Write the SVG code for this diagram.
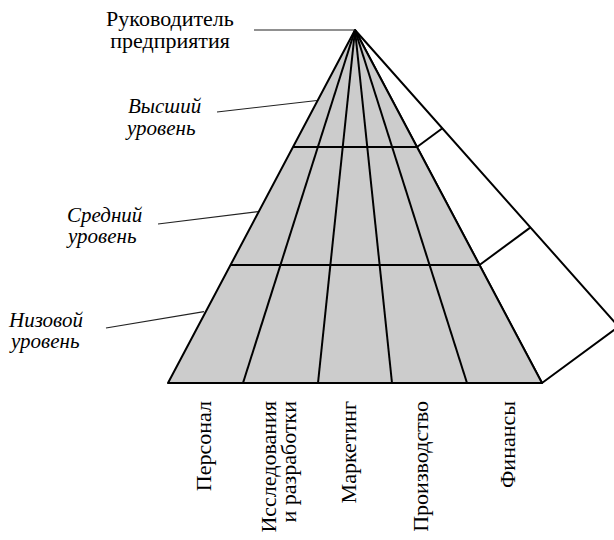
<svg xmlns="http://www.w3.org/2000/svg" width="614" height="540" viewBox="0 0 614 540">
<style>
.edge{fill:none;stroke:#000;stroke-width:2;stroke-linejoin:round}
.gray{fill:#cccccc}
.white{fill:#ffffff}
.lead{fill:none;stroke:#222;stroke-width:1.2}
.up{font-family:"Liberation Serif","DejaVu Serif",serif;font-size:22px;fill:#000}
.it{font-family:"Liberation Serif","DejaVu Serif",serif;font-size:21px;font-style:italic;fill:#000}
</style>
<rect width="614" height="540" fill="#fff"/>
<g id="right-face">
<polygon class="white" points="355,30 542,383 618.6,326.6"/>
<polygon class="edge" points="355,30 542,383 618.6,326.6"/>
<line class="edge" x1="417" y1="147" x2="442.4" y2="128.3"/>
<line class="edge" x1="479.5" y1="265" x2="530.5" y2="227.4"/>
</g>
<g id="front-face">
<polygon class="gray" points="355,30 168,383 542,383"/>
<polygon class="edge" points="355,30 168,383 542,383"/>
<line class="edge" x1="293" y1="147" x2="417" y2="147"/>
<line class="edge" x1="230.5" y1="265" x2="479.5" y2="265"/>
<line class="edge" x1="355" y1="30" x2="243" y2="383"/>
<line class="edge" x1="355" y1="30" x2="318" y2="383"/>
<line class="edge" x1="355" y1="30" x2="392" y2="383"/>
<line class="edge" x1="355" y1="30" x2="467" y2="383"/>
</g>
<g id="connectors">
<line class="lead" x1="254" y1="30" x2="355" y2="30"/>
<line class="lead" x1="217" y1="112" x2="317" y2="100.5"/>
<line class="lead" x1="158" y1="224" x2="258" y2="211.7"/>
<line class="lead" x1="106" y1="328" x2="204" y2="311.7"/>
</g>
<g id="label-head">
<text class="up" x="170" y="26" text-anchor="middle" font-family="Liberation Serif">Руководитель</text>
<text class="up" x="170" y="48" text-anchor="middle" font-family="Liberation Serif">предприятия</text>
</g>
<g id="label-top">
<text class="it" x="128" y="113">Высший</text>
<text class="it" x="127" y="135">уровень</text>
</g>
<g id="label-middle">
<text class="it" x="67" y="222">Средний</text>
<text class="it" x="68" y="243">уровень</text>
</g>
<g id="label-low">
<text class="it" x="9" y="327">Низовой</text>
<text class="it" x="11" y="348">уровень</text>
</g>
<g id="col-personnel"><text class="up" transform="translate(211,401) rotate(-90)" text-anchor="end">Персонал</text></g>
<g id="col-rd">
<text class="up" transform="translate(276,401) rotate(-90)" text-anchor="end">Исследования</text>
<text class="up" transform="translate(296,401) rotate(-90)" text-anchor="end">и разработки</text>
</g>
<g id="col-marketing"><text class="up" transform="translate(356,401) rotate(-90)" text-anchor="end">Маркетинг</text></g>
<g id="col-production"><text class="up" transform="translate(428,401) rotate(-90)" text-anchor="end">Производство</text></g>
<g id="col-finance"><text class="up" transform="translate(515,401) rotate(-90)" text-anchor="end">Финансы</text></g>
</svg>
